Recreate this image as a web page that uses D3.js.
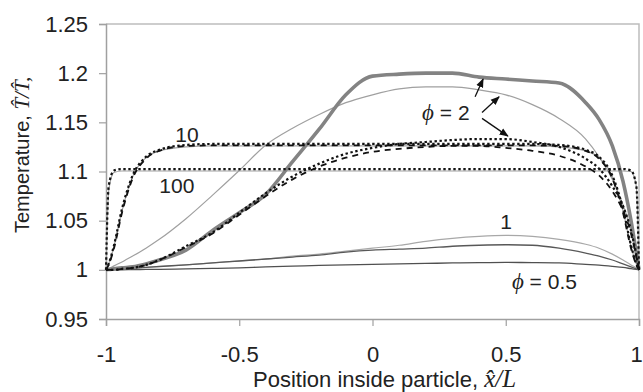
<!DOCTYPE html>
<html>
<head>
<meta charset="utf-8">
<script src="https://cdn.jsdelivr.net/npm/d3@7"></script>
<style>
  body { margin: 0; background: #fff; }
  svg { display: block; }
  .tick text { font-family: Arial, "Liberation Sans", sans-serif; font-size: 22px; fill: #222; }
  .lbl { font-family: Arial, "Liberation Sans", sans-serif; fill: #222; }
  .mth { font-family: "Liberation Serif", "DejaVu Serif", serif; font-style: italic; }
</style>
</head>
<body>
<div id="chart"></div>
<script>
// positions along the particle (x/L)
const xPos = [-1, -0.99, -0.97, -0.94, -0.9, -0.85, -0.8, -0.7, -0.6, -0.5, -0.4, -0.3, -0.2, -0.1, 0,
              0.1, 0.2, 0.3, 0.4, 0.5, 0.6, 0.7, 0.8, 0.85, 0.9, 0.94, 0.97, 0.99, 1];

// temperature profiles, one value per xPos
const phi100Dot  = [1, 1.085, 1.101, 1.1025, 1.1025, 1.1025, 1.1025, 1.1025, 1.1025, 1.1025, 1.1025, 1.1025, 1.1025, 1.1025, 1.1025,
                    1.1025, 1.1025, 1.1025, 1.1025, 1.1025, 1.1025, 1.1025, 1.1025, 1.1025, 1.1025, 1.1025, 1.101, 1.085, 1];
const phi100Gray = [1, 1.08, 1.099, 1.1005, 1.1005, 1.1005, 1.1005, 1.1005, 1.1005, 1.1005, 1.1005, 1.1005, 1.1005, 1.1005, 1.1005,
                    1.1005, 1.1005, 1.1005, 1.1005, 1.1005, 1.1005, 1.1005, 1.1005, 1.1005, 1.1005, 1.1005, 1.1, 1.085, 1];
const phi10Dot   = [1, 1.006, 1.025, 1.062, 1.096, 1.115, 1.122, 1.127, 1.128, 1.128, 1.128, 1.128, 1.128, 1.128, 1.128,
                    1.128, 1.128, 1.128, 1.128, 1.128, 1.128, 1.127, 1.122, 1.115, 1.096, 1.062, 1.025, 1.006, 1];
const phi10Dash  = [1, 1.005, 1.022, 1.058, 1.093, 1.113, 1.121, 1.126, 1.1265, 1.1265, 1.1265, 1.1265, 1.1265, 1.1265, 1.1265,
                    1.1265, 1.1265, 1.1265, 1.1265, 1.1265, 1.1265, 1.126, 1.121, 1.113, 1.093, 1.058, 1.022, 1.005, 1];
const phi10Gray  = [1, 1.006, 1.024, 1.06, 1.095, 1.114, 1.121, 1.125, 1.126, 1.126, 1.126, 1.126, 1.126, 1.126, 1.126,
                    1.126, 1.126, 1.126, 1.126, 1.126, 1.126, 1.125, 1.121, 1.114, 1.095, 1.06, 1.024, 1.006, 1];
const phi2Thick  = [1, 1.0003, 1.001, 1.002, 1.003, 1.006, 1.01, 1.02, 1.04, 1.058, 1.077, 1.11, 1.143, 1.178, 1.197,
                    1.199, 1.2, 1.2, 1.196, 1.194, 1.192, 1.19, 1.17, 1.153, 1.126, 1.09, 1.05, 1.017, 1];
const phi2Thin   = [1, 1.001, 1.004, 1.008, 1.014, 1.022, 1.031, 1.052, 1.076, 1.101, 1.127, 1.144, 1.158, 1.17, 1.178,
                    1.184, 1.186, 1.186, 1.183, 1.178, 1.168, 1.154, 1.133, 1.115, 1.092, 1.066, 1.04, 1.014, 1];
const phi2Dot    = [1, 1, 1, 1.001, 1.002, 1.005, 1.01, 1.024, 1.038, 1.058, 1.078, 1.095, 1.108, 1.118, 1.124,
                    1.128, 1.13, 1.132, 1.133, 1.133, 1.13, 1.125, 1.113, 1.103, 1.085, 1.065, 1.04, 1.015, 1];
const phi2Dash   = [1, 1, 1, 1.001, 1.002, 1.005, 1.01, 1.023, 1.037, 1.056, 1.075, 1.092, 1.105, 1.114, 1.12,
                    1.123, 1.125, 1.126, 1.126, 1.124, 1.121, 1.116, 1.105, 1.096, 1.08, 1.06, 1.037, 1.013, 1];
const phi1Light  = [1, 1.0002, 1.0005, 1.001, 1.0017, 1.0025, 1.0034, 1.005, 1.007, 1.009, 1.011, 1.014, 1.016, 1.019, 1.022,
                    1.025, 1.029, 1.032, 1.034, 1.035, 1.034, 1.031, 1.026, 1.022, 1.016, 1.01, 1.005, 1.002, 1];
const phi1Dark   = [1, 1.0002, 1.0005, 1.001, 1.0017, 1.0025, 1.0034, 1.005, 1.007, 1.009, 1.011, 1.013, 1.015, 1.018, 1.02,
                    1.021, 1.022, 1.024, 1.025, 1.0255, 1.025, 1.022, 1.017, 1.014, 1.01, 1.006, 1.003, 1.001, 1];
const phi05      = [1, 1, 1.0001, 1.0001, 1.0002, 1.0004, 1.0005, 1.001, 1.0015, 1.002, 1.003, 1.0037, 1.0045, 1.005, 1.0055,
                    1.006, 1.0065, 1.007, 1.0073, 1.0075, 1.0074, 1.0071, 1.0055, 1.0047, 1.0035, 1.0024, 1.0012, 1.0004, 1];

const xTicks = [-1, -0.5, 0, 0.5, 1];
const yTicks = [0.95, 1, 1.05, 1.1, 1.15, 1.2, 1.25];

// curve labels in data units: [text, x, T]
const curveLabels = [["10", -0.696, 1.13], ["100", -0.734, 1.078], ["1", 0.501, 1.0415]];
const phiLabels = [["0.5", 0.523, 0.9805], ["2", 0.186, 1.1524]];
// arrows from the phi = 2 label: [x1, T1, x2, T2]
const arrows = [[0.385, 1.176, 0.415, 1.194], [0.411, 1.160, 0.475, 1.176], [0.411, 1.154, 0.508, 1.136]];

var margin = { top: 24, right: 4, bottom: 73, left: 106 },
    width = 643 - margin.left - margin.right,
    height = 392 - margin.top - margin.bottom;

const svg = d3.select("#chart").append("svg")
    .attr("width", 643)
    .attr("height", 392)
  .append("g")
    .attr("transform", "translate(" + margin.left + "," + margin.top + ")");

var x = d3.scaleLinear().domain([-1, 1]).range([0, width]);
var y = d3.scaleLinear().domain([0.95, 1.25]).range([height, 0]);

// frame
svg.append("path")
    .attr("d", "M0,0H" + width + "V" + height)
    .attr("fill", "none").attr("stroke", "#bdbdbd").attr("stroke-width", 1.5);

var plain = function(d) { return String(d); };
var xAxis = svg.append("g")
    .attr("transform", "translate(0," + height + ")")
    .call(d3.axisBottom(x).tickValues(xTicks).tickSize(7).tickPadding(20).tickFormat(plain));
var yAxis = svg.append("g")
    .call(d3.axisLeft(y).tickValues(yTicks).tickSize(7).tickPadding(11).tickFormat(plain));
[xAxis, yAxis].forEach(function(a) {
  a.select(".domain").attr("stroke", "#a0a0a0").attr("stroke-width", 1.5);
  a.selectAll(".tick line").attr("stroke", "#a0a0a0").attr("stroke-width", 1.2);
});
// last x label sits on the page edge, nudge it in a little
xAxis.selectAll(".tick text").filter(function(d) { return d === 1; }).attr("dx", -3);

var line = d3.line().x(function(d) { return x(d[0]); }).y(function(d) { return y(d[1]); }).curve(d3.curveMonotoneX);

var series = [
  { v: phi05,      stroke: "#505050", w: 1.3, dash: null },
  { v: phi1Light,  stroke: "#a8a8a8", w: 1.2, dash: null },
  { v: phi1Dark,   stroke: "#585858", w: 1.3, dash: null },
  { v: phi100Gray, stroke: "#a0a0a0", w: 1.2, dash: null },
  { v: phi10Gray,  stroke: "#a0a0a0", w: 1.2, dash: null },
  { v: phi2Thin,   stroke: "#a0a0a0", w: 1.2, dash: null },
  { v: phi2Thick,  stroke: "#838383", w: 3.6, dash: null },
  { v: phi2Dash,   stroke: "#111",    w: 1.8, dash: "6,5" },
  { v: phi10Dash,  stroke: "#111",    w: 1.8, dash: "6,5" },
  { v: phi2Dot,    stroke: "#111",    w: 2.2, dash: "2.4,2.6" },
  { v: phi10Dot,   stroke: "#111",    w: 2.2, dash: "2.4,2.6" },
  { v: phi100Dot,  stroke: "#111",    w: 2.2, dash: "2.4,2.6" }
];

svg.selectAll(".profile")
    .data(series)
  .enter().append("path")
    .attr("class", "profile")
    .attr("fill", "none")
    .attr("stroke", function(d) { return d.stroke; })
    .attr("stroke-width", function(d) { return d.w; })
    .attr("stroke-dasharray", function(d) { return d.dash; })
    .attr("d", function(d) { return line(d.v.map(function(t, i) { return [xPos[i], t]; })); });

svg.append("defs").append("marker")
    .attr("id", "head")
    .attr("viewBox", "0 0 10 10")
    .attr("refX", 9).attr("refY", 5)
    .attr("markerWidth", 7).attr("markerHeight", 7)
    .attr("orient", "auto")
  .append("path")
    .attr("d", "M0,1L10,5L0,9Z")
    .attr("fill", "#111");

svg.selectAll(".arrow")
    .data(arrows)
  .enter().append("line")
    .attr("class", "arrow")
    .attr("x1", function(d) { return x(d[0]); })
    .attr("y1", function(d) { return y(d[1]); })
    .attr("x2", function(d) { return x(d[2]); })
    .attr("y2", function(d) { return y(d[3]); })
    .attr("stroke", "#111").attr("stroke-width", 1.3)
    .attr("marker-end", "url(#head)");

svg.selectAll(".clabel")
    .data(curveLabels)
  .enter().append("text")
    .attr("class", "clabel lbl")
    .attr("x", function(d) { return x(d[1]); })
    .attr("y", function(d) { return y(d[2]); })
    .attr("text-anchor", "middle")
    .style("font-size", "21px")
    .text(function(d) { return d[0]; });

var pl = svg.selectAll(".plabel")
    .data(phiLabels)
  .enter().append("text")
    .attr("class", "plabel lbl")
    .attr("x", function(d) { return x(d[1]); })
    .attr("y", function(d) { return y(d[2]); })
    .style("font-size", "21px");
pl.append("tspan").attr("class", "mth").style("font-size", "23px").text("\u03D5");
pl.append("tspan").text(function(d) { return " = " + d[0]; });

// axis titles
var xt = svg.append("text")
    .attr("class", "lbl")
    .attr("x", 147).attr("y", height + 68)
    .style("font-size", "22px");
xt.append("tspan").text("Position inside particle, ");
xt.append("tspan").attr("class", "mth").style("font-size", "25px").text("x\u0302/L");

var yt = svg.append("text")
    .attr("class", "lbl")
    .attr("transform", "translate(" + (29 - margin.left) + "," + (233 - margin.top) + ") rotate(-90)")
    .style("font-size", "20px");
yt.append("tspan").text("Temperature, ");
yt.append("tspan").attr("class", "mth").style("font-size", "21px").text("T\u0302/T\u0302,");
</script>
</body>
</html>
